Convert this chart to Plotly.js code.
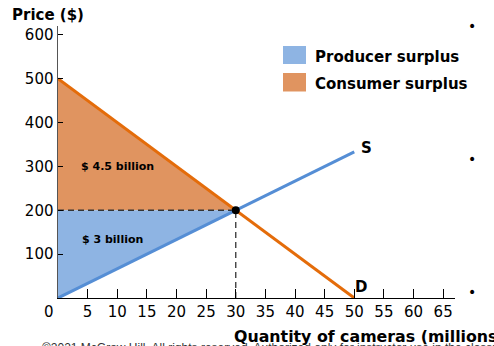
<!DOCTYPE html>
<html><head><meta charset="utf-8">
<script src="https://cdn.plot.ly/plotly-3.0.1.min.js"></script>
<style>body{margin:0;background:#fff}#chart{width:494px;height:346px}</style>
</head><body><div id="chart"></div>
<script>
// Data
const supplyQ = [0, 50];
const supplyP = [0, 333.3];
const demandQ = [0, 50];
const demandP = [500, 0];
const eqQ = 30;
const eqP = 200;
const producerQ = [0, 30, 0, 0];
const producerP = [0, 200, 200, 0];
const consumerQ = [0, 30, 0, 0];
const consumerP = [200, 200, 500, 200];
const xTicks = [5,10,15,20,25,30,35,40,45,50,55,60,65];
const yTicks = [100,200,300,400,500,600];
const labels = {producer: "$ 3 billion", consumer: "$ 4.5 billion"};

const blueFill = "rgb(142,180,227)";
const orangeFill = "rgb(224,148,96)";
const blueLine = "rgb(85,142,213)";
const orangeLine = "rgb(228,108,10)";

const traces = [
  {x: consumerQ, y: consumerP, fill: "toself", fillcolor: orangeFill, mode: "lines", line: {width: 0, color: orangeFill}, hoverinfo: "skip", showlegend: false},
  {x: producerQ, y: producerP, fill: "toself", fillcolor: blueFill, mode: "lines", line: {width: 0, color: blueFill}, hoverinfo: "skip", showlegend: false},
  {x: [0, eqQ], y: [eqP, eqP], mode: "lines", line: {color: "#333", width: 1.3, dash: "6px,4px"}, showlegend: false},
  {x: [eqQ, eqQ], y: [0, eqP], mode: "lines", line: {color: "#333", width: 1.3, dash: "6px,4px"}, showlegend: false},
  {x: supplyQ, y: supplyP, mode: "lines", line: {color: blueLine, width: 3}, showlegend: false},
  {x: demandQ, y: demandP, mode: "lines", line: {color: orangeLine, width: 3}, showlegend: false},
  {x: [eqQ], y: [eqP], mode: "markers", marker: {color: "#000", size: 8}, showlegend: false}
];

const bold = {family: "DejaVu Sans", size: 15, color: "#000", weight: "bold"};
const layout = {
  width: 494, height: 346,
  margin: {l: 58, r: 39, t: 26, b: 48},
  paper_bgcolor: "#fff", plot_bgcolor: "#fff",
  font: {family: "DejaVu Sans", size: 15, color: "#000"},
  xaxis: {range: [0, 67], tickvals: xTicks, ticktext: xTicks.map(String), ticks: "inside", ticklen: 9, tickcolor: "#000",
          showline: true, linecolor: "#000", linewidth: 1.2, showgrid: false, zeroline: false, fixedrange: true,
          tickfont: {size: 15}},
  yaxis: {range: [0, 620], tickvals: yTicks, ticktext: yTicks.map(String), ticks: "inside", ticklen: 5, tickcolor: "#000",
          showline: true, linecolor: "#555", linewidth: 1.5, showgrid: false, zeroline: false, fixedrange: true,
          tickfont: {size: 15}},
  shapes: [
    {type: "rect", xref: "paper", yref: "paper", x0: (283-58)/397, x1: (306-58)/397, y0: (298-64)/272, y1: (298-46)/272, fillcolor: blueFill, line: {width: 0}},
    {type: "rect", xref: "paper", yref: "paper", x0: (283-58)/397, x1: (306-58)/397, y0: (298-91.5)/272, y1: (298-73)/272, fillcolor: orangeFill, line: {width: 0}}
  ],
  annotations: [
    {xref: "paper", yref: "paper", x: (313-58)/397, y: (298-57)/272, xanchor: "left", yanchor: "middle", text: "Producer surplus", showarrow: false, font: bold},
    {xref: "paper", yref: "paper", x: (313-58)/397, y: (298-84)/272, xanchor: "left", yanchor: "middle", text: "Consumer surplus", showarrow: false, font: bold},
    {xref: "x", yref: "y", x: 10, y: 300, text: labels.consumer, showarrow: false, font: {family: "DejaVu Sans", size: 11, weight: "bold", color: "#000"}},
    {xref: "x", yref: "y", x: 9.2, y: 134, text: labels.producer, showarrow: false, font: {family: "DejaVu Sans", size: 11, weight: "bold", color: "#000"}},
    {xref: "x", yref: "y", x: 52.1, y: 342, text: "S", showarrow: false, font: bold},
    {xref: "x", yref: "y", x: 51.1, y: 25, text: "D", showarrow: false, font: bold},
    {xref: "paper", yref: "paper", x: (49-58)/397, y: (298-312)/272, xanchor: "center", yanchor: "middle", text: "0", showarrow: false, font: {size: 15}},
    {xref: "paper", yref: "paper", x: (10-58)/397, y: (298-15)/272, xanchor: "left", yanchor: "middle", text: "Price ($)", showarrow: false, font: bold},
    {xref: "paper", yref: "paper", x: (40-58)/397, y: (298-348)/272, xanchor: "left", yanchor: "middle", text: "©2021 McGraw Hill. All rights reserved. Authorized only for instructor use in the classroom.", showarrow: false, font: {family: "Liberation Sans", size: 12, color: "#333"}},
    {xref: "paper", yref: "paper", x: (232-58)/397, y: (298-336)/272, xanchor: "left", yanchor: "middle", text: "Quantity of cameras (millions)", showarrow: false, font: {family: "DejaVu Sans", size: 15.8, weight: "bold", color: "#000"}},
    {xref: "paper", yref: "paper", x: (478-58)/397, y: (298-16)/272, text: "•", showarrow: false, font: {size: 14}},
    {xref: "paper", yref: "paper", x: (478-58)/397, y: (298-159)/272, text: "•", showarrow: false, font: {size: 14}},
    {xref: "paper", yref: "paper", x: (478-58)/397, y: (298-302)/272, text: "•", showarrow: false, font: {size: 14}}
  ]
};
Plotly.newPlot("chart", traces, layout, {displayModeBar: false, staticPlot: true});
</script></body></html>
